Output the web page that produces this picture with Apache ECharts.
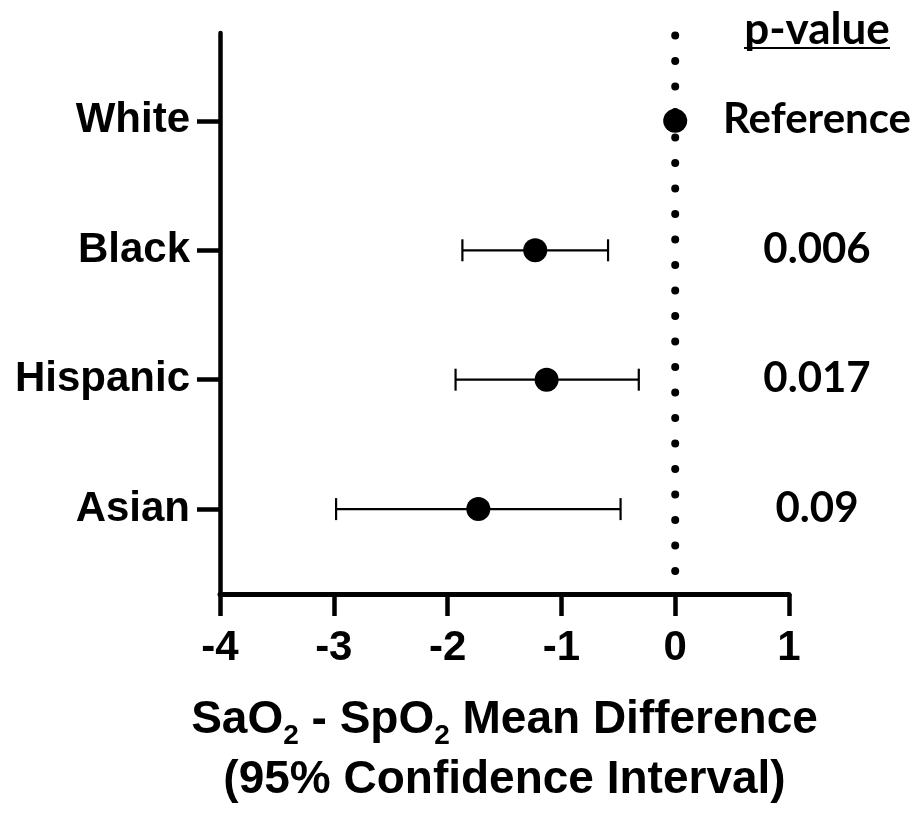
<!DOCTYPE html>
<html>
<head>
<meta charset="utf-8">
<script src="https://cdn.jsdelivr.net/npm/echarts@6/dist/echarts.min.js"></script>
<style>
html,body{margin:0;padding:0;background:#fff;}
#chart{width:922px;height:815px;}
</style>
</head>
<body>
<div id="chart"></div>
<script>
// ---- data ----
const categories = ['White', 'Black', 'Hispanic', 'Asian'];
const yPositions = [4, 3, 2, 1];
const meanDiff = [0, -1.23, -1.13, -1.73];
const ciLow = [null, -1.87, -1.93, -2.98];
const ciHigh = [null, -0.59, -0.32, -0.48];
const pValues = ['Reference', '0.006', '0.017', '0.09'];
const pHeader = 'p-value';
const xMin = -4, xMax = 1, xStep = 1;
const yMin = 0.344, yMax = 4.679;

const LAB = 'Liberation Sans, Arial, sans-serif';
const CAL = 'Lato, Carlito, Calibri, sans-serif';

const chart = echarts.init(document.getElementById('chart'), null, {renderer: 'canvas'});

const pointData = categories.map((c, i) => [meanDiff[i], yPositions[i]]);
const ciData = categories.map((c, i) => [ciLow[i], ciHigh[i], yPositions[i]]).filter(d => d[0] !== null);
const pData = categories.map((c, i) => [xMax, yPositions[i], pValues[i]]);

const option = {
  animation: false,
  backgroundColor: '#ffffff',
  grid: {left: 220, right: 133, top: 33, bottom: 214, containLabel: false},
  xAxis: {
    type: 'value', min: xMin, max: xMax, interval: xStep,
    axisLine: {show: true, onZero: false, lineStyle: {color: '#000', width: 5}},
    axisTick: {show: true, length: 22, lineStyle: {color: '#000', width: 4.5}},
    axisLabel: {color: '#000', fontSize: 42, fontWeight: 'bold', fontFamily: LAB, margin: 33},
    splitLine: {show: false},
    name: 'SaO{sub|2} - SpO{sub|2} Mean Difference\n(95% Confidence Interval)',
    nameLocation: 'middle',
    nameGap: 96,
    nameTextStyle: {
      color: '#000', fontSize: 46, fontWeight: 'bold', fontFamily: LAB, lineHeight: 60,
      rich: {
        sub: {color: '#000', fontSize: 28, fontWeight: 'bold', fontFamily: LAB, lineHeight: 26, verticalAlign: 'bottom'}
      }
    }
  },
  yAxis: {
    type: 'value', min: yMin, max: yMax,
    axisLine: {show: true, onZero: false, lineStyle: {color: '#000', width: 4.5}},
    axisTick: {show: true, length: 23, customValues: yPositions, lineStyle: {color: '#000', width: 4.5}},
    axisLabel: {
      color: '#000', fontSize: 42, fontWeight: 'bold', fontFamily: LAB, margin: 30,
      customValues: yPositions,
      formatter: v => categories[yPositions.indexOf(Math.round(v))] || ''
    },
    splitLine: {show: false}
  },
  series: [
    {
      type: 'line',
      data: [[0, yMin], [0, yMax]],
      symbol: 'none', showSymbol: false, silent: true, z: 1,
      lineStyle: {color: '#000', width: 8, opacity: 1, type: [0, 25.5], cap: 'round', dashOffset: 2.5}
    },
    {
      type: 'custom',
      z: 2,
      data: ciData,
      encode: {x: [0, 1], y: 2},
      renderItem: function (params, api) {
        const y = api.value(2);
        const p1 = api.coord([api.value(0), y]);
        const p2 = api.coord([api.value(1), y]);
        const h = 11;
        const st = {stroke: '#000', lineWidth: 2.2};
        return {
          type: 'group',
          children: [
            {type: 'line', shape: {x1: p1[0], y1: p1[1], x2: p2[0], y2: p2[1]}, style: st},
            {type: 'line', shape: {x1: p1[0], y1: p1[1] - h, x2: p1[0], y2: p1[1] + h}, style: st},
            {type: 'line', shape: {x1: p2[0], y1: p2[1] - h, x2: p2[0], y2: p2[1] + h}, style: st}
          ]
        };
      }
    },
    {
      type: 'scatter',
      z: 3,
      data: pointData,
      symbol: 'circle', symbolSize: 24,
      itemStyle: {color: '#000', opacity: 1},
      emphasis: {disabled: true}
    },
    {
      type: 'scatter',
      z: 3,
      data: pData,
      symbolSize: 0,
      silent: true,
      itemStyle: {opacity: 1},
      label: {
        show: true, position: 'inside', offset: [28, -1],
        formatter: p => p.data[2],
        color: '#000', opacity: 1, fontSize: 42, fontWeight: 'bold', fontFamily: CAL,
        align: 'center', verticalAlign: 'middle'
      }
    }
  ],
  graphic: [
    {
      type: 'text', x: 817, y: 30,
      style: {text: pHeader, fill: '#000', font: 'bold 44px ' + CAL, align: 'center', verticalAlign: 'middle'}
    },
    {
      type: 'line', shape: {x1: 744, y1: 48, x2: 890, y2: 48},
      style: {stroke: '#000', lineWidth: 2.2}
    }
  ]
};
chart.setOption(option);
</script>
</body>
</html>
